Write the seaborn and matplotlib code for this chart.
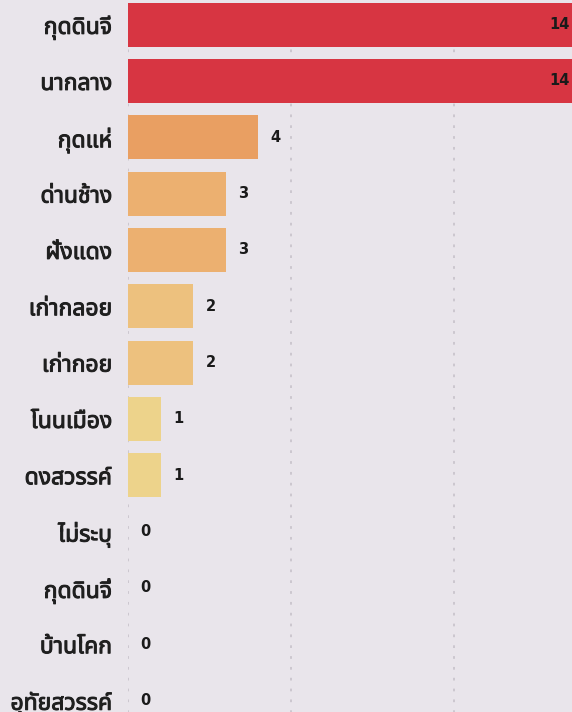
"""Horizontal bar chart of counts by sub-district (Thai labels)."""

import matplotlib
matplotlib.use("Agg")
import matplotlib.pyplot as plt
import matplotlib.patheffects as pe
import seaborn as sns
import pandas as pd

# data
areas = [
    "กุดดินจี", "นากลาง", "กุดแห่", "ด่านช้าง", "ฝั่งแดง",
    "เก่ากลอย", "เก่ากอย", "โนนเมือง", "ดงสวรรค์", "ไม่ระบุ",
    "กุดดินจี่", "บ้านโคก", "อุทัยสวรรค์",
]
counts = [14, 14, 4, 3, 3, 2, 2, 1, 1, 0, 0, 0, 0]
x_ticks = [0, 5, 10, 15]

# colour by count
count_colors = {
    14: "#D73542", 4: "#E99F62", 3: "#ECB070",
    2: "#EDC17E", 1: "#EDD38B", 0: "#EDD38B",
}
BG = "#E9E5EB"

sns.set_theme(style="white")
plt.rcParams["font.family"] = ["Noto Sans Thai", "DejaVu Sans"]

df = pd.DataFrame({"area": areas, "count": counts})

fig = plt.figure(figsize=(5.72, 7.12), dpi=100, facecolor=BG)
# axes runs past the right/top/bottom edge (the reference is a crop)
ax = fig.add_axes([128 / 572, -0.0235, 15 * 32.55 / 572, 1.0285])
ax.set_facecolor(BG)

sns.barplot(
    data=df, x="count", y="area", hue="area", orient="h",
    palette=[count_colors[c] for c in counts], legend=False,
    width=0.78, linewidth=0, saturation=1, ax=ax,
)

ax.set_xlim(0, 15)
ax.set_xticks(x_ticks)
ax.set_xticklabels([])
ax.grid(axis="x", color="#C9C4CC", linestyle=(0, (1.5, 4.5)), linewidth=1.3)
ax.grid(axis="y", visible=False)
ax.set_axisbelow(True)
for s in ax.spines.values():
    s.set_visible(False)
ax.tick_params(axis="y", length=0, pad=11.5, labelsize=16.5, labelcolor="#1f1f1f")
ax.tick_params(axis="x", length=0)
# variable font only gives the regular weight, so thicken the strokes a bit
for lbl in ax.get_yticklabels():
    lbl.set_path_effects([pe.withStroke(linewidth=0.7, foreground="#1f1f1f")])
ax.set_xlabel("")
ax.set_ylabel("")

top = max(counts)
for i, c in enumerate(counts):
    inside = c == top
    ax.annotate(
        str(c), xy=(c, i), xytext=(-10 if inside else 9, 0),
        textcoords="offset points", ha="right" if inside else "left",
        va="center", fontsize=10.5, fontweight="bold", color="#1a1a1a",
        family=["DejaVu Sans"],
    )

fig.savefig("out.png", dpi=100, facecolor=BG)
